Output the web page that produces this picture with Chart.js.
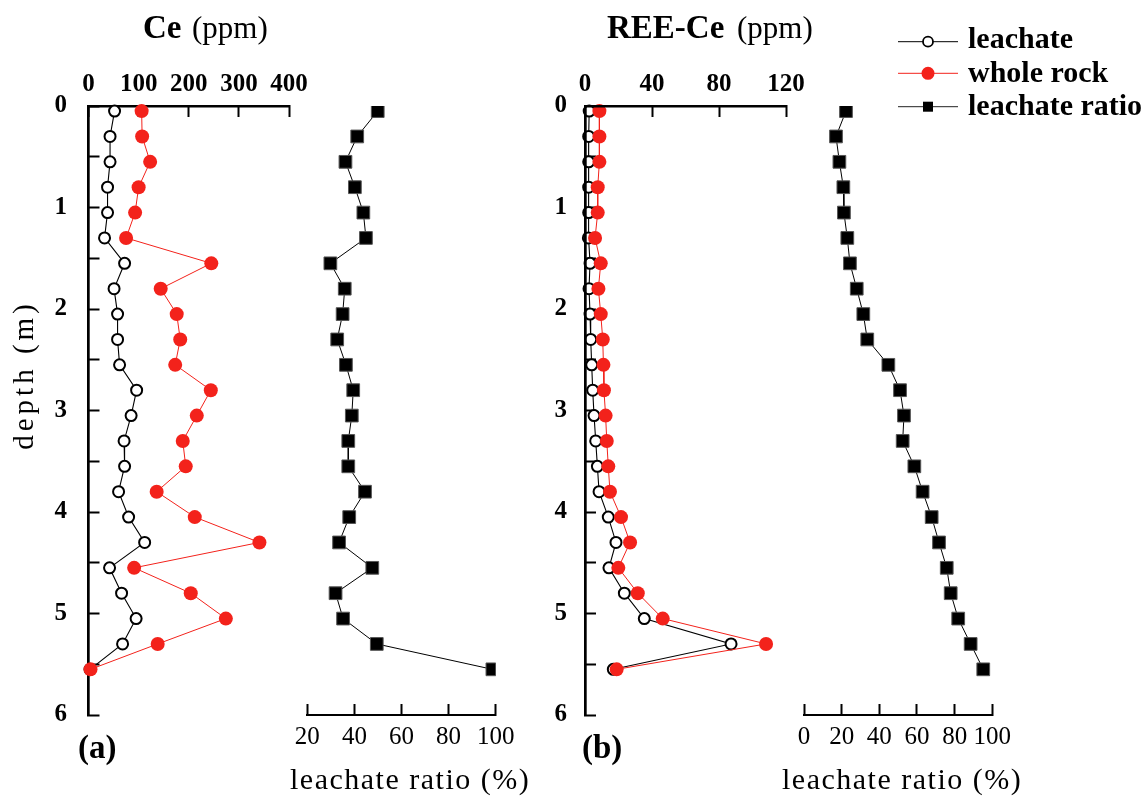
<!DOCTYPE html>
<html>
<head>
<meta charset="utf-8">
<script src="https://cdn.jsdelivr.net/npm/chart.js@4.4.0/dist/chart.umd.min.js"></script>
<style>
  html, body { margin: 0; padding: 0; background: #fff; }
  #wrap { position: relative; width: 1146px; height: 801px; overflow: hidden; }
  #wrap canvas { position: absolute; left: 0; top: 0; }
</style>
</head>
<body>
<div id="wrap">
  <canvas id="ceChart" width="1146" height="801"></canvas>
  <canvas id="ceRatioChart" width="1146" height="801"></canvas>
  <canvas id="reeChart" width="1146" height="801"></canvas>
  <canvas id="reeRatioChart" width="1146" height="801"></canvas>
</div>
<script>
// sampling depths (m)
const depth = [0.05, 0.3, 0.55, 0.8, 1.05, 1.3, 1.55, 1.8, 2.05, 2.3, 2.55, 2.8,
               3.05, 3.3, 3.55, 3.8, 4.05, 4.3, 4.55, 4.8, 5.05, 5.3, 5.55];

// (a) Ce, ppm
const ceLeachate = [52, 43, 43, 38, 38, 32, 72, 51, 58, 58, 62, 96,
                    85, 71, 72, 60, 80, 112, 42, 66, 95, 68, 3];
const ceWholeRock = [106, 107, 123, 100, 93, 75, 245, 144, 176, 183, 173, 244,
                     216, 188, 194, 136, 212, 341, 91, 204, 274, 138, 4];
const ceRatio = [49.9, 41.2, 36.2, 40.2, 43.8, 44.9, 29.8, 35.9, 35.0, 32.7, 36.4, 39.5,
                 38.9, 37.4, 37.4, 44.5, 37.8, 33.5, 47.6, 32.0, 35.2, 49.5, 98.6];

// (b) REE-Ce, ppm
const reeLeachate = [2.5, 2.2, 2.2, 2.2, 2.2, 2.0, 3.0, 2.4, 3.0, 3.4, 4.0, 4.6,
                     5.4, 6.4, 7.4, 8.4, 13.9, 18.5, 14.3, 23.5, 35.4, 87.2, 16.9];
const reeWholeRock = [8.6, 8.6, 8.6, 7.6, 7.6, 6.0, 9.4, 8.0, 9.4, 10.6, 11.0, 11.3,
                      12.3, 13.0, 13.9, 14.9, 21.5, 26.9, 19.9, 31.5, 46.4, 108.1, 18.9];
const reeRatio = [22.3, 17.0, 18.8, 20.9, 21.2, 23.0, 24.4, 28.0, 31.5, 33.6, 44.8, 51.0,
                  53.1, 52.4, 58.6, 63.0, 67.8, 71.7, 75.8, 77.9, 81.9, 88.5, 95.2];

const W = 1146, H = 801;
const RED = '#f3221b';
const serif = "'Liberation Serif', 'Times New Roman', serif";
const boldTicks = { family: serif, size: 25, weight: 'bold' };
const plainTicks = { family: serif, size: 25 };

function points(values) {
  return values.map((v, i) => ({ x: v, y: depth[i] }));
}

const inwardGrid = { drawOnChartArea: false, tickLength: -11, tickWidth: 2, color: '#000' };

// concentration profile: value axis on top, depth axis on the left
function concChart(id, area, xMax, xStep, yPad, borderZ, leach, whole) {
  return new Chart(document.getElementById(id), {
    type: 'scatter',
    data: {
      datasets: [
        { label: 'whole rock', data: points(whole), showLine: true, clip: false,
          borderColor: RED, borderWidth: 1, pointRadius: 7,
          pointBackgroundColor: RED, pointBorderWidth: 0 },
        { label: 'leachate', data: points(leach), showLine: true, clip: false,
          borderColor: '#000', borderWidth: 1.1, pointRadius: 5.5,
          pointBackgroundColor: '#fff', pointBorderColor: '#000', pointBorderWidth: 2 }
      ]
    },
    options: {
      responsive: false, animation: false, events: [],
      layout: { padding: { left: area.left - 60, top: area.top - 50,
                           right: W - area.right, bottom: H - area.bottom } },
      plugins: { legend: { display: false }, tooltip: { enabled: false } },
      scales: {
        x: {
          type: 'linear', position: 'top', min: 0, max: xMax,
          ticks: { stepSize: xStep, autoSkip: false, maxRotation: 0, minRotation: 0,
                   padding: 17.5, color: '#000', font: boldTicks },
          grid: inwardGrid,
          border: { color: '#000', width: 2.5, z: borderZ },
          afterFit: s => { s.height = 50; }
        },
        y: {
          type: 'linear', position: 'left', reverse: true, min: 0, max: 6,
          ticks: { stepSize: 0.5, autoSkip: false, padding: yPad, color: '#000', font: boldTicks,
                   callback: v => Number.isInteger(v) ? v : '' },
          grid: inwardGrid,
          border: { color: '#000', width: 2.7, z: borderZ },
          afterFit: s => { s.width = 60; }
        }
      }
    }
  });
}

// leachate ratio profile: percentage axis at the bottom, depth shared but hidden
function ratioChart(id, area, xMin, ratio, extra) {
  return new Chart(document.getElementById(id), {
    type: 'scatter',
    data: {
      datasets: [
        { label: 'leachate ratio', data: points(ratio), showLine: true,
          borderColor: '#000', borderWidth: 1, pointStyle: 'rect', pointRadius: 9,
          pointBackgroundColor: '#000', pointBorderColor: '#555', pointBorderWidth: 1 }
      ]
    },
    options: {
      responsive: false, animation: false, events: [],
      layout: { padding: { left: area.left, top: area.top,
                           right: W - area.right, bottom: H - area.bottom - 50 } },
      plugins: { legend: { display: false }, tooltip: { enabled: false } },
      scales: {
        x: {
          type: 'linear', position: 'bottom', min: xMin, max: 100,
          ticks: { stepSize: 20, autoSkip: false, maxRotation: 0, minRotation: 0,
                   padding: 18.5, color: '#000', font: plainTicks },
          grid: inwardGrid,
          border: { color: '#000', width: 2 },
          afterFit: s => { s.height = 50; }
        },
        y: { type: 'linear', display: false, reverse: true, min: 0, max: 6 }
      }
    },
    plugins: extra ? [extra] : []
  });
}

// titles, panel letters and the legend
const labelsAndLegend = {
  id: 'labelsAndLegend',
  afterDraw(chart) {
    const ctx = chart.ctx;
    ctx.save();
    ctx.fillStyle = '#000';
    ctx.textAlign = 'left';
    ctx.textBaseline = 'alphabetic';

    ctx.font = 'bold 33px ' + serif;
    ctx.fillText('Ce', 143, 38);
    ctx.fillText('REE-Ce', 607, 38);
    ctx.font = '31px ' + serif;
    ctx.fillText('(ppm)', 192, 38);
    ctx.fillText('(ppm)', 737, 38);

    ctx.font = 'bold 33px ' + serif;
    ctx.fillText('(a)', 78, 758);
    ctx.fillText('(b)', 582, 758);

    ctx.font = '30px ' + serif;
    ctx.letterSpacing = '1.5px';
    ctx.fillText('leachate ratio (%)', 290, 789);
    ctx.fillText('leachate ratio (%)', 782, 789);

    ctx.save();
    ctx.font = '29px ' + serif;
    ctx.letterSpacing = '4px';
    ctx.textAlign = 'center';
    ctx.translate(33, 375);
    ctx.rotate(-Math.PI / 2);
    ctx.fillText('depth (m)', 0, 0);
    ctx.restore();

    // legend
    const rows = [
      { text: 'leachate', y: 41.7, base: 48, line: '#000', kind: 'open' },
      { text: 'whole rock', y: 73.3, base: 82, line: RED, kind: 'dot' },
      { text: 'leachate ratio', y: 106.7, base: 115, line: '#222', kind: 'square' }
    ];
    ctx.letterSpacing = '0px';
    ctx.font = 'bold 30px ' + serif;
    rows.forEach(r => {
      ctx.strokeStyle = r.line;
      ctx.lineWidth = 1;
      ctx.beginPath();
      ctx.moveTo(898, r.y);
      ctx.lineTo(958, r.y);
      ctx.stroke();
      if (r.kind === 'open') {
        ctx.beginPath();
        ctx.arc(928, r.y, 5, 0, Math.PI * 2);
        ctx.fillStyle = '#fff';
        ctx.fill();
        ctx.lineWidth = 1.8;
        ctx.strokeStyle = '#000';
        ctx.stroke();
      } else if (r.kind === 'dot') {
        ctx.beginPath();
        ctx.arc(928, r.y, 6.5, 0, Math.PI * 2);
        ctx.fillStyle = RED;
        ctx.fill();
      } else {
        ctx.fillStyle = '#000';
        ctx.fillRect(923, r.y - 5, 10, 10);
      }
      ctx.fillStyle = '#000';
      ctx.fillText(r.text, 968, r.base);
    });
    ctx.restore();
  }
};

concChart('ceChart', { left: 88.5, top: 106, right: 289, bottom: 715 },
          400, 100, 32.5, 0, ceLeachate, ceWholeRock);
ratioChart('ceRatioChart', { left: 307.3, top: 106, right: 495.7, bottom: 715 },
           20, ceRatio);
concChart('reeChart', { left: 585, top: 106, right: 786, bottom: 715 },
          120, 40, 29, 1, reeLeachate, reeWholeRock);
ratioChart('reeRatioChart', { left: 804, top: 106, right: 992.3, bottom: 715 },
           0, reeRatio, labelsAndLegend);
</script>
</body>
</html>
